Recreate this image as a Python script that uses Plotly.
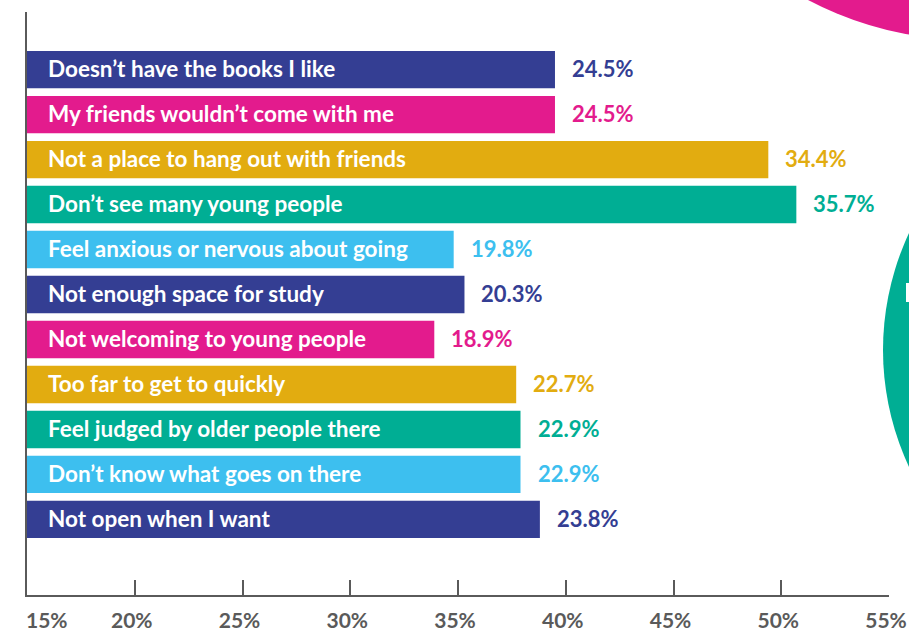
import plotly.graph_objects as go

# Survey reasons, top to bottom, with their percentages
categories = [
    "Doesn’t have the books I like",
    "My friends wouldn’t come with me",
    "Not a place to hang out with friends",
    "Don’t see many young people",
    "Feel anxious or nervous about going",
    "Not enough space for study",
    "Not welcoming to young people",
    "Too far to get to quickly",
    "Feel judged by older people there",
    "Don’t know what goes on there",
    "Not open when I want",
]
values = [24.5, 24.5, 34.4, 35.7, 19.8, 20.3, 18.9, 22.7, 22.9, 22.9, 23.8]

NAVY, PINK, GOLD, TEAL, SKY = "#343E93", "#E31B8D", "#E2AC10", "#00AE94", "#3DBFEF"
bar_colors = [NAVY, PINK, GOLD, TEAL, SKY, NAVY, PINK, GOLD, TEAL, SKY, NAVY]

tick_vals = [0, 5, 10, 15, 20, 25, 30, 35, 40]
tick_text = ["15%", "20%", "25%", "30%", "35%", "40%", "45%", "50%", "55%"]

AXIS_GREY = "#5A5A5A"
FONT = "Lato"
TICK_STANDOFF = 6

fig = go.Figure(
    go.Bar(
        x=values,
        y=categories,
        orientation="h",
        marker=dict(color=bar_colors, line=dict(width=0)),
        width=0.83,
        hoverinfo="skip",
    )
)

# Category names inside the bars, values just past the bar ends
annotations = []
for cat, val, col in zip(categories, values, bar_colors):
    annotations.append(dict(
        x=0, y=cat, xref="x", yref="y", text=cat, showarrow=False,
        xanchor="left", yanchor="middle", xshift=19, yshift=1,
        font=dict(family=FONT, size=22.5, color="white", weight="bold"),
    ))
    annotations.append(dict(
        x=val, y=cat, xref="x", yref="y", text=f"{val}%", showarrow=False,
        xanchor="left", yanchor="middle", xshift=15, yshift=1,
        font=dict(family=FONT, size=22, color=col, weight="bold"),
    ))

# The first tick label sits to the right of its tick rather than centred on it
tick_font = dict(family=FONT, size=21, color=AXIS_GREY, weight="bold")
annotations.append(dict(
    x=tick_vals[0], y=0, xref="x", yref="paper", text=tick_text[0],
    showarrow=False, xanchor="left", yanchor="middle",
    xshift=-3, yshift=-24, font=tick_font,
))
axis_ticktext = [""] + tick_text[1:]

# Plot area geometry in pixels, used for the decorative circles
L, R, T, B = 27, 20, 12, 39
W, H = 909, 634
pw, ph = W - L - R, H - T - B


def px_x(px):
    return (px - L) / pw


def px_y(py):
    return (H - B - py) / ph


def circle(cx, cy, r, color):
    return dict(
        type="circle", xref="paper", yref="paper", layer="below",
        x0=px_x(cx - r), x1=px_x(cx + r), y0=px_y(cy + r), y1=px_y(cy - r),
        fillcolor=color, line=dict(width=0),
    )


shapes = [
    circle(970, -308, 348, PINK),
    circle(1159, 350, 276, TEAL),
    dict(type="rect", xref="paper", yref="paper", layer="above",
         x0=px_x(906), x1=px_x(910), y0=px_y(302), y1=px_y(283),
         fillcolor="white", line=dict(width=0)),
]

n = len(categories)
fig.update_layout(
    width=W, height=H,
    margin=dict(l=L, r=R, t=T, b=B, pad=0, autoexpand=False),
    paper_bgcolor="white", plot_bgcolor="white",
    showlegend=False,
    annotations=annotations,
    shapes=shapes,
    xaxis=dict(
        range=[0, 40], tickvals=tick_vals, ticktext=axis_ticktext,
        showgrid=False, zeroline=False, automargin=False,
        showline=True, linecolor=AXIS_GREY, linewidth=2,
        ticks="inside", ticklen=15, tickwidth=2, tickcolor=AXIS_GREY,
        ticklabelstandoff=TICK_STANDOFF, ticklabelshift=-3,
        tickfont=tick_font,
        fixedrange=True,
    ),
    yaxis=dict(
        categoryorder="array", categoryarray=categories,
        range=[n + 0.68, -1.28], automargin=False,
        showticklabels=False, showgrid=False, zeroline=False,
        showline=True, linecolor=AXIS_GREY, linewidth=2,
        ticks="", fixedrange=True,
    ),
)

fig.write_html("out.html")
